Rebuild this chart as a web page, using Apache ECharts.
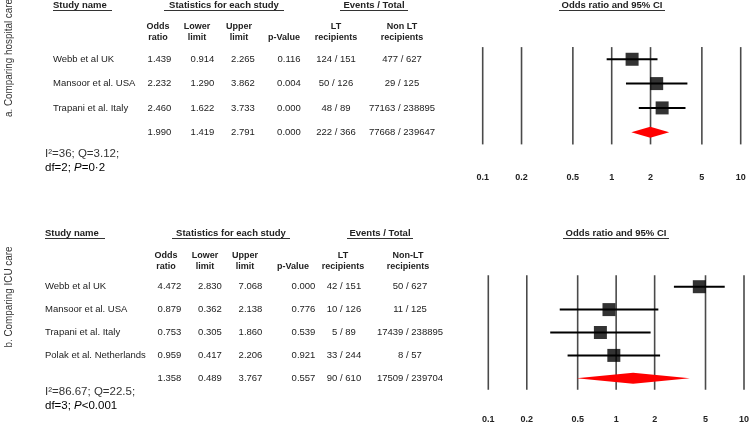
<!DOCTYPE html>
<html><head><meta charset="utf-8">
<script src="https://cdn.jsdelivr.net/npm/echarts@6/dist/echarts.min.js"></script>
<style>html,body{margin:0;padding:0;background:#fff}#c{width:750px;height:423px}</style>
</head><body><div id="c"></div>
<script>
// ---------- data ----------
const tickValues = [0.1, 0.2, 0.5, 1, 2, 5, 10];
const tickLabels = ['0.1', '0.2', '0.5', '1', '2', '5', '10'];

// Panel a: Comparing hospital care
const studiesA = ['Webb et al UK', 'Mansoor et al. USA', 'Trapani et al. Italy'];
const orA  = [1.439, 2.232, 2.460];
const lowA = [0.914, 1.290, 1.622];
const upA  = [2.265, 3.862, 3.733];
const pA   = ['0.116', '0.004', '0.000'];
const ltA  = ['124 / 151', '50 / 126', '48 / 89'];
const nonA = ['477 / 627', '29 / 125', '77163 / 238895'];
const sumA = [1.990, 1.419, 2.791];
const sumPA = '0.000', sumLtA = '222 / 366', sumNonA = '77668 / 239647';

// Panel b: Comparing ICU care
const studiesB = ['Webb et al UK', 'Mansoor et al. USA', 'Trapani et al. Italy', 'Polak et al. Netherlands'];
const orB  = [4.472, 0.879, 0.753, 0.959];
const lowB = [2.830, 0.362, 0.305, 0.417];
const upB  = [7.068, 2.138, 1.860, 2.206];
const pB   = ['0.000', '0.776', '0.539', '0.921'];
const ltB  = ['42 / 151', '10 / 126', '5 / 89', '33 / 244'];
const nonB = ['50 / 627', '11 / 125', '17439 / 238895', '8 / 57'];
const sumB = [1.358, 0.489, 3.767];
const sumPB = '0.557', sumLtB = '90 / 610', sumNonB = '17509 / 239704';

// ---------- layout ----------
const FF = '"Liberation Sans", Arial, sans-serif';
const TXT = '#222';
const panels = [
  {
    studies: studiesA, or: orA, low: lowA, up: upA, p: pA, lt: ltA, non: nonA,
    sum: sumA, sumP: sumPA, sumLt: sumLtA, sumNon: sumNonA,
    grid: {left: 482.7, width: 258, top: 47.1, height: 97.3},
    tickY: 178,
    cols: {name: 53, or: 159.5, lo: 202.5, up: 243, p: 289, lt: 336, non: 402},
    hcols: {or: 158, lo: 197, up: 239, p: 284, lt: 336, non: 402},
    headY: 5, subY: 32,
    heads: [['Study name', 53, 112, 'left'], ['Statistics for each study', 164, 284, 'center'], ['Events / Total', 340, 408, 'center']],
    title: [559, 665],
    ltHead: 'LT\nrecipients', nonHead: 'Non LT\nrecipients',
    stats: [['I²=36; Q=3.12;', 154], ['df=2; ', 168, 'P', '=0·2']], statsX: 45,
    side: ['a. Comparing hospital care', 9, 58]
  },
  {
    studies: studiesB, or: orB, low: lowB, up: upB, p: pB, lt: ltB, non: nonB,
    sum: sumB, sumP: sumPB, sumLt: sumLtB, sumNon: sumNonB,
    grid: {left: 488.3, width: 255.7, top: 275.25, height: 114.5},
    tickY: 420,
    cols: {name: 45, or: 169.5, lo: 210, up: 250.5, p: 303.5, lt: 344, non: 410},
    hcols: {or: 166, lo: 205, up: 245, p: 293, lt: 343, non: 408},
    headY: 233, subY: 261,
    heads: [['Study name', 45, 105, 'left'], ['Statistics for each study', 172, 290, 'center'], ['Events / Total', 347, 413, 'center']],
    title: [563, 669],
    ltHead: 'LT\nrecipients', nonHead: 'Non-LT\nrecipients',
    stats: [['I²=86.67; Q=22.5;', 392], ['df=3; ', 406, 'P', '<0.001']], statsX: 45,
    side: ['b. Comparing ICU care', 9, 297]
  }
];

function txt(x, y, text, opts) {
  opts = opts || {};
  return {
    type: 'text', x: x, y: y, silent: true,
    style: Object.assign({
      text: text, fill: TXT,
      font: (opts.bold ? 'bold ' : '') + (opts.size || 9.5) + 'px ' + FF,
      textAlign: opts.align || 'center', align: opts.align || 'center',
      textVerticalAlign: 'middle', verticalAlign: 'middle',
      lineHeight: opts.lineHeight || 11
    }, opts.style || {})
  };
}

const grids = [], xAxes = [], yAxes = [], series = [], graphics = [];

panels.forEach(function (P, pi) {
  const n = P.studies.length;
  grids.push(Object.assign({}, P.grid));
  xAxes.push({type: 'log', logBase: 10, min: 0.1, max: 10, gridIndex: pi, show: false});
  yAxes.push({type: 'value', inverse: true, min: -0.5, max: n + 0.5, gridIndex: pi, show: false});

  // vertical reference lines and tick labels
  series.push({
    type: 'custom', xAxisIndex: pi, yAxisIndex: pi, z: 1, silent: true,
    data: tickValues.map(function (v, i) { return [v, i]; }),
    renderItem: function (params, api) {
      const v = api.value(0);
      const cs = params.coordSys;
      const x = api.coord([v, 0])[0];
      return {type: 'group', children: [
        {type: 'line', shape: {x1: x, y1: cs.y, x2: x, y2: cs.y + cs.height},
         style: {stroke: '#4a4a4a', lineWidth: 1.6}},
        txt(x, P.tickY, tickLabels[api.value(1)], {bold: true, size: 9})
      ]};
    }
  });

  // confidence interval bars
  series.push({
    type: 'custom', xAxisIndex: pi, yAxisIndex: pi, z: 3, silent: true,
    data: P.studies.map(function (s, i) { return [P.low[i], P.up[i], i]; }),
    renderItem: function (params, api) {
      const a = api.coord([api.value(0), api.value(2)]);
      const b = api.coord([api.value(1), api.value(2)]);
      return {type: 'line', shape: {x1: a[0], y1: a[1], x2: b[0], y2: b[1]},
              style: {stroke: '#000', lineWidth: 2}};
    }
  });

  // point estimates
  series.push({
    type: 'scatter', xAxisIndex: pi, yAxisIndex: pi, z: 4, silent: true,
    symbol: 'rect', symbolSize: 13, itemStyle: {color: '#000'},
    data: P.studies.map(function (s, i) { return [P.or[i], i]; })
  });

  // summary diamond
  series.push({
    type: 'custom', xAxisIndex: pi, yAxisIndex: pi, z: 4, silent: true,
    data: [[P.sum[0], P.sum[1], P.sum[2], n]],
    renderItem: function (params, api) {
      const c = api.coord([api.value(0), api.value(3)]);
      const l = api.coord([api.value(1), api.value(3)]);
      const r = api.coord([api.value(2), api.value(3)]);
      const h = 5.5;
      return {type: 'polygon', shape: {points: [[l[0], c[1]], [c[0], c[1] - h], [r[0], c[1]], [c[0], c[1] + h]]},
              style: {fill: '#ff0000'}};
    }
  });

  // table rows
  const rows = P.studies.map(function (s, i) {
    return {name: s, or: P.or[i], lo: P.low[i], up: P.up[i], p: P.p[i], lt: P.lt[i], non: P.non[i]};
  });
  rows.push({name: '', or: P.sum[0], lo: P.sum[1], up: P.sum[2], p: P.sumP, lt: P.sumLt, non: P.sumNon});
  series.push({
    type: 'custom', xAxisIndex: pi, yAxisIndex: pi, z: 5, silent: true, clip: false,
    data: rows.map(function (r, i) { return [1, i]; }),
    renderItem: function (params, api) {
      const r = rows[params.dataIndex];
      const y = api.coord([1, api.value(1)])[1];
      const C = P.cols;
      return {type: 'group', children: [
        txt(C.name, y, r.name, {align: 'left'}),
        txt(C.or, y, r.or.toFixed(3)),
        txt(C.lo, y, r.lo.toFixed(3)),
        txt(C.up, y, r.up.toFixed(3)),
        txt(C.p, y, r.p),
        txt(C.lt, y, r.lt),
        txt(C.non, y, r.non)
      ]};
    }
  });

  // headers
  P.heads.forEach(function (h) {
    const cx = h[3] === 'left' ? h[1] : (h[1] + h[2]) / 2;
    graphics.push(txt(cx, P.headY, h[0], {bold: true, size: 9.5, align: h[3]}));
    graphics.push({type: 'line', silent: true, shape: {x1: h[1], y1: P.headY + 5.5, x2: h[2], y2: P.headY + 5.5},
                   style: {stroke: '#333', lineWidth: 1}});
  });
  const tc = (P.title[0] + P.title[1]) / 2;
  graphics.push(txt(tc, P.headY, 'Odds ratio and 95% CI', {bold: true, size: 9.5}));
  graphics.push({type: 'line', silent: true, shape: {x1: P.title[0], y1: P.headY + 5.5, x2: P.title[1], y2: P.headY + 5.5},
                 style: {stroke: '#333', lineWidth: 1}});
  const H = P.hcols;
  [['Odds\nratio', H.or], ['Lower\nlimit', H.lo], ['Upper\nlimit', H.up], ['\np-Value', H.p],
   [P.ltHead, H.lt], [P.nonHead, H.non]].forEach(function (s) {
    graphics.push(txt(s[1], P.subY, s[0], {bold: true, size: 9, lineHeight: 10.5}));
  });

  // heterogeneity stats
  graphics.push(txt(P.statsX, P.stats[0][1], P.stats[0][0], {align: 'left', size: 11.5, style: {fill: '#333'}}));
  const s2 = P.stats[1];
  graphics.push({
    type: 'text', x: P.statsX, y: s2[1], silent: true,
    style: {
      text: '{n|' + s2[0] + '}{i|' + s2[2] + '}{n|' + s2[3] + '}',
      textAlign: 'left', align: 'left', textVerticalAlign: 'middle', verticalAlign: 'middle',
      rich: {
        n: {fontSize: 11.5, fontFamily: FF, color: '#333'},
        i: {fontSize: 11.5, fontFamily: FF, fontStyle: 'italic', color: '#333'}
      }
    }
  });

  // side label
  graphics.push({
    type: 'text', x: P.side[1], y: P.side[2], rotation: Math.PI / 2, scaleX: 0.86, silent: true,
    style: {text: P.side[0], fill: '#333', font: '11.5px ' + FF,
            textAlign: 'center', align: 'center', textVerticalAlign: 'middle', verticalAlign: 'middle'}
  });
});

const chart = echarts.init(document.getElementById('c'), null, {renderer: 'canvas'});
chart.setOption({
  backgroundColor: '#fff',
  animation: false,
  grid: grids,
  xAxis: xAxes,
  yAxis: yAxes,
  series: series,
  graphic: graphics
});
</script>
</body></html>
